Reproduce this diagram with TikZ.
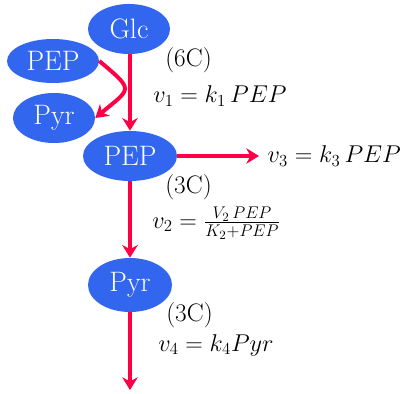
\documentclass[tikz,border=0pt]{standalone}
\usepackage{tikz}
\usetikzlibrary{arrows.meta,shapes.geometric}
\definecolor{metblue}{HTML}{3366EE}
\definecolor{fluxred}{HTML}{FF0044}

\begin{document}
\begin{tikzpicture}[x=0.025cm,y=-0.025cm,
  metab/.style={ellipse, fill=metblue, text=white, inner sep=0pt, minimum width=#1, minimum height=1.25cm, font=\fontsize{20}{22}\selectfont},
  flux/.style={draw=fluxred, line width=2.8pt, -{Stealth[length=9pt,width=11pt]}},
  lbl/.style={anchor=west, inner sep=0pt, font=\fontsize{18}{20}\selectfont}
]
  \useasboundingbox (0,0) rectangle (401,394);

  % metabolites
  \node[metab=2.05cm] (glc) at (129,29) {Glc};
  \node[metab=2.3cm, minimum height=1.1cm] (pepIn) at (53,61) {PEP};
  \node[metab=2.05cm] (pyrOut) at (54,118) {Pyr};
  \node[metab=2.35cm] (pep) at (130,156) {PEP};
  \node[metab=2.1cm, minimum height=1.35cm] (pyr) at (130,285) {Pyr};
  \coordinate (sink) at (130,390);

  % labels
  \node[lbl] (sixC) at (165,60) {(6C)};
  \node[lbl] (eqOne) at (153,96) {$v_1 = k_1\,PEP$};
  \node[lbl, inner xsep=6pt] (eqThree) at (259,156) {$v_3 = k_3\,PEP$};
  \node[lbl] (threeCa) at (165,187) {(3C)};
  \node[lbl] (eqTwo) at (152,223) {$v_2 = \frac{V_2\,PEP}{K_2+PEP}$};
  \node[lbl] (threeCb) at (166,315) {(3C)};
  \node[lbl] (eqFour) at (158,345) {$v_4 = k_4 Pyr$};

  % fluxes
  \draw[flux] (glc.south -| pep.north) -- (pep.north);
  \draw[flux] (pepIn.east) to[out=-40, in=40, looseness=2.1] (pyrOut.east);
  \draw[flux] (pep.east) -- (eqThree.west);
  \draw[flux] (pep.south) -- (pyr.north);
  \draw[flux] (pyr.south) -- (sink);
\end{tikzpicture}
\end{document}
